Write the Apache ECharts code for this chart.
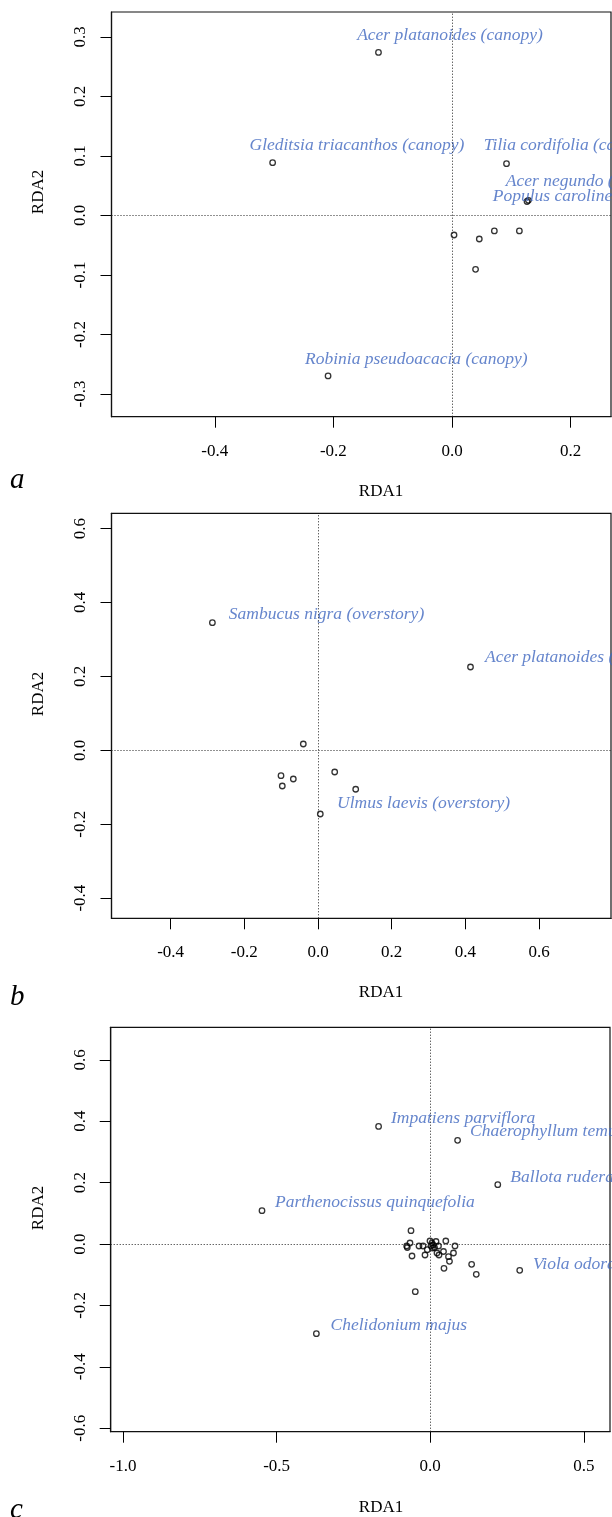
<!DOCTYPE html>
<html>
<head>
<meta charset="utf-8">
<script src="https://cdn.jsdelivr.net/npm/echarts@6/dist/echarts.min.js"></script>
<style>
  html, body { margin: 0; padding: 0; background: #fff; }
  #chart { width: 612px; height: 1517px; }
</style>
</head>
<body>
<div id="chart"></div>
<script>
// ---- panel a: canopy ----
const aPointsX = [-0.124, -0.3025, 0.0919, 0.1288, 0.1265, 0.0034, 0.046, 0.0714, 0.1136, 0.0397, -0.209];
const aPointsY = [0.274, 0.0888, 0.087, 0.0255, 0.0235, -0.0328, -0.0395, -0.026, -0.026, -0.0905, -0.2697];
const aLabels = ['Acer platanoides (canopy)', 'Gleditsia triacanthos (canopy)', 'Tilia cordifolia (canopy)',
                 'Acer negundo (canopy)', 'Populus carolinensis (canopy)', 'Robinia pseudoacacia (canopy)'];
const aLabelX = [-0.160, -0.3415, 0.0536, 0.0906, 0.0688, -0.2479];
const aLabelY = [0.303, 0.117, 0.117, 0.0568, 0.0316, -0.2417];
const aXTicks = [-0.4, -0.2, 0.0, 0.2];
const aYTicks = [-0.3, -0.2, -0.1, 0.0, 0.1, 0.2, 0.3];

// ---- panel b: overstory ----
const bPointsX = [-0.2866, 0.4138, -0.0399, -0.1004, -0.0969, -0.067, 0.0453, 0.1023, 0.0062];
const bPointsY = [0.3453, 0.2254, 0.017, -0.0687, -0.0966, -0.0777, -0.0587, -0.1055, -0.1724];
const bLabels = ['Sambucus nigra (overstory)', 'Acer platanoides (overstory)', 'Ulmus laevis (overstory)'];
const bLabelX = [-0.242, 0.453, 0.0516];
const bLabelY = [0.369, 0.2506, -0.1434];
const bXTicks = [-0.4, -0.2, 0.0, 0.2, 0.4, 0.6];
const bYTicks = [-0.4, -0.2, 0.0, 0.2, 0.4, 0.6];

// ---- panel c: herb layer ----
const cPointsX = [-0.168, 0.0892, 0.220, -0.5475, 0.2914, -0.3705, -0.0625, -0.0658, -0.0765, -0.0745,
                  -0.0592, -0.0365, -0.0234, -0.0169, -0.0094, -0.0007, 0.0026, 0.0059, 0.0091, 0.014,
                  0.0075, 0.0189, 0.027, 0.0221, 0.0286, 0.0433, 0.0508, 0.0596, 0.0628, 0.0758,
                  0.0807, 0.0449, -0.0485, 0.1349, 0.150];
const cPointsY = [0.383, 0.3378, 0.1932, 0.1085, -0.0857, -0.2922, 0.0433, 0.0033, -0.0065, -0.0114,
                  -0.0391, -0.0065, -0.0065, -0.0358, -0.0186, 0.0098, -0.0065, 0.0033, -0.0033, -0.0114,
                  -0.013, 0.0081, -0.0065, -0.0293, -0.0358, -0.0244, 0.0098, -0.0414, -0.0564, -0.0293,
                  -0.0065, -0.0792, -0.1553, -0.0662, -0.0988];
const cLabels = ['Impatiens parviflora', 'Chaerophyllum temulum', 'Ballota ruderalis',
                 'Parthenocissus quinquefolia', 'Viola odorata', 'Chelidonium majus'];
const cLabelX = [-0.1276, 0.1296, 0.261, -0.5052, 0.3346, -0.3245];
const cLabelY = [0.4094, 0.3658, 0.2172, 0.1345, -0.0651, -0.2638];
const cXTicks = [-1.0, -0.5, 0.0, 0.5];
const cYTicks = [-0.6, -0.4, -0.2, 0.0, 0.2, 0.4, 0.6];

const SERIF = '"Liberation Serif", "DejaVu Serif", serif';
const LABEL_BLUE = '#3f66bf';

const panels = [
  { px: aPointsX, py: aPointsY, names: aLabels, lx: aLabelX, ly: aLabelY, xt: aXTicks, yt: aYTicks,
    grid: { left: 111.5, top: 12, width: 499.5, height: 404.7 },
    xr: [-0.5742, 0.2681], yr: [-0.3382, 0.342], letter: 'a', letterY: 495, titleY: 492, ylabY: 192 },
  { px: bPointsX, py: bPointsY, names: bLabels, lx: bLabelX, ly: bLabelY, xt: bXTicks, yt: bYTicks,
    grid: { left: 111.5, top: 513.3, width: 499.5, height: 405 },
    xr: [-0.5604, 0.7951], yr: [-0.4547, 0.6414], letter: 'b', letterY: 1012, titleY: 993, ylabY: 694 },
  { px: cPointsX, py: cPointsY, names: cLabels, lx: cLabelX, ly: cLabelY, xt: cXTicks, yt: cYTicks,
    grid: { left: 110.7, top: 1027.3, width: 499.3, height: 404.4 },
    xr: [-1.040, 0.5853], yr: [-0.6114, 0.7059], letter: 'c', letterY: 1525, titleY: 1508, ylabY: 1208 }
];

const fmt = v => v.toFixed(1);

const chart = echarts.init(document.getElementById('chart'), null, { renderer: 'canvas' });

const grids = [], xAxes = [], yAxes = [], series = [], graphics = [];

panels.forEach((p, i) => {
  grids.push(Object.assign({ show: true, borderColor: '#111', borderWidth: 1.2, backgroundColor: 'transparent' }, p.grid));

  xAxes.push({
    type: 'value', gridIndex: i, min: p.xr[0], max: p.xr[1],
    splitLine: { show: false },
    axisLine: { show: true, onZero: false, lineStyle: { color: '#111', width: 1.2 } },
    axisTick: { show: true, length: 11, customValues: p.xt, lineStyle: { color: '#000', width: 1 } },
    axisLabel: { customValues: p.xt, formatter: fmt, margin: 26, color: '#000', fontFamily: SERIF, fontSize: 17 }
  });
  yAxes.push({
    type: 'value', gridIndex: i, min: p.yr[0], max: p.yr[1],
    splitLine: { show: false },
    axisLine: { show: true, onZero: false, lineStyle: { color: '#111', width: 1.2 } },
    axisTick: { show: true, length: 11, customValues: p.yt, lineStyle: { color: '#000', width: 1 } },
    axisLabel: { customValues: p.yt, formatter: fmt, rotate: 90, margin: 22, color: '#000', fontFamily: SERIF, fontSize: 17 }
  });

  // open circles + dotted zero lines
  series.push({
    type: 'scatter', xAxisIndex: i, yAxisIndex: i,
    data: p.px.map((x, k) => [x, p.py[k]]),
    symbol: 'circle', symbolSize: 5.5,
    itemStyle: { color: 'rgba(0,0,0,0)', borderColor: '#000', borderWidth: 1.3 },
    markLine: {
      silent: true, symbol: 'none', animation: false,
      label: { show: false },
      lineStyle: { color: '#222', width: 1, type: [1, 2] },
      data: [{ xAxis: 0 }, { yAxis: 0 }]
    },
    z: 3
  });

  // species labels
  series.push({
    type: 'scatter', xAxisIndex: i, yAxisIndex: i,
    data: p.lx.map((x, k) => ({ value: [x, p.ly[k]], name: p.names[k] })),
    symbolSize: 0, clip: false,
    label: {
      show: true, position: 'right', distance: 0, formatter: '{b}',
      color: LABEL_BLUE, fontFamily: SERIF, fontStyle: 'italic', fontSize: 17.5
    },
    z: 4
  });

  graphics.push({
    type: 'text', x: 39, y: p.ylabY, rotation: Math.PI / 2,
    style: { text: 'RDA2', fill: '#000', font: '17px ' + SERIF, align: 'center', verticalAlign: 'middle' }
  });
  graphics.push({
    type: 'text', x: 381, y: p.titleY,
    style: { text: 'RDA1', fill: '#000', font: '17px ' + SERIF, align: 'center', verticalAlign: 'middle' }
  });
  graphics.push({
    type: 'text', x: 10, y: p.letterY,
    style: { text: p.letter, fill: '#000', font: 'italic 29px ' + SERIF, align: 'left', verticalAlign: 'bottom' }
  });
});

chart.setOption({
  animation: false,
  backgroundColor: '#fff',
  grid: grids,
  xAxis: xAxes,
  yAxis: yAxes,
  series: series,
  graphic: graphics
});
</script>
</body>
</html>
